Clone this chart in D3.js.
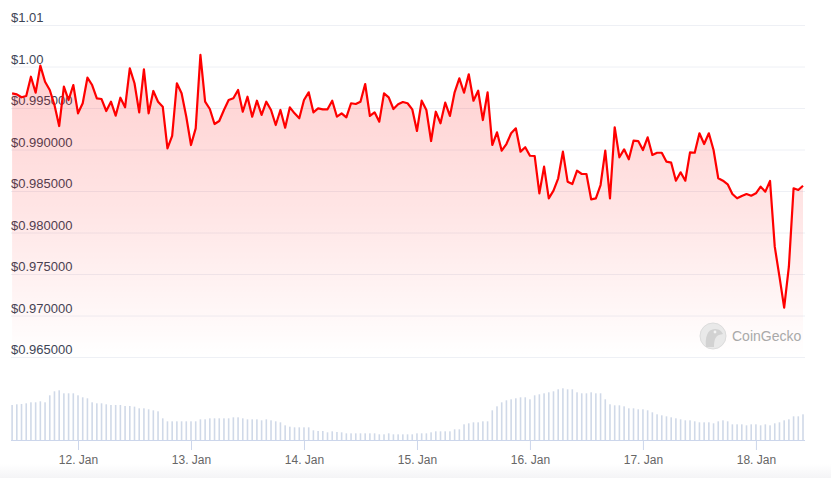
<!DOCTYPE html>
<html>
<head>
<meta charset="utf-8">
<script src="https://cdn.jsdelivr.net/npm/d3@7/dist/d3.min.js"></script>
<style>
  html, body { margin: 0; padding: 0; background: #fff; }
  svg { display: block; font-family: "Liberation Sans", Arial, Helvetica, sans-serif; }
</style>
</head>
<body>
<svg id="chart" width="831" height="478"></svg>
<script>
// ---- data ----
const startTime = Date.UTC(2024, 0, 11, 10, 0); // 11 Jan 10:00, hourly points
const prices = [
  0.99677, 0.99665, 0.99629, 0.99645, 0.99877, 0.99684, 1.00010, 0.99817, 0.99717, 0.99536,
  0.99283, 0.99757, 0.99596, 0.99777, 0.99436, 0.99557, 0.99865, 0.99777, 0.99617, 0.99608,
  0.99464, 0.99576, 0.99407, 0.99624, 0.99508, 0.99978, 0.99798, 0.99448, 0.99966, 0.99436,
  0.99705, 0.99576, 0.99516, 0.99014, 0.99163, 0.99798, 0.99677, 0.99395, 0.99054, 0.99255,
  1.00139, 0.99576, 0.99488, 0.99307, 0.99343, 0.99476, 0.99596, 0.99617, 0.99717, 0.99455,
  0.99636, 0.99395, 0.99588, 0.99416, 0.99576, 0.99476, 0.99295, 0.99476, 0.99263, 0.99508,
  0.99436, 0.99376, 0.99596, 0.99689, 0.99448, 0.99496, 0.99484, 0.99484, 0.99588, 0.99395,
  0.99436, 0.99388, 0.99557, 0.99548, 0.99576, 0.99789, 0.99404, 0.99448, 0.99335, 0.99677,
  0.99629, 0.99488, 0.99545, 0.99572, 0.99557, 0.99484, 0.99223, 0.99588, 0.99476, 0.99102,
  0.99455, 0.99316, 0.99564, 0.99404, 0.99689, 0.99858, 0.99684, 0.99906, 0.99588, 0.99708,
  0.99355, 0.99689, 0.99054, 0.99207, 0.98986, 0.99066, 0.99195, 0.99255, 0.98974, 0.99027,
  0.98925, 0.98922, 0.98472, 0.98793, 0.98412, 0.98504, 0.98653, 0.98974, 0.98612, 0.98584,
  0.98745, 0.98705, 0.98705, 0.98400, 0.98412, 0.98572, 0.98986, 0.98412, 0.99268, 0.98906,
  0.99002, 0.98882, 0.99106, 0.99102, 0.98994, 0.99147, 0.98934, 0.98961, 0.98961, 0.98853,
  0.98841, 0.98624, 0.98725, 0.98624, 0.98966, 0.98961, 0.99195, 0.99066, 0.99195, 0.98994,
  0.98653, 0.98624, 0.98581, 0.98464, 0.98412, 0.98440, 0.98464, 0.98443, 0.98472, 0.98552,
  0.98492, 0.98621, 0.97829, 0.97468, 0.97094, 0.97588, 0.98533, 0.98512, 0.98564
];
const volumes = [
  105, 107, 108, 110, 113, 113, 116, 113, 134, 146,
  149, 140, 140, 140, 134, 128, 125, 113, 110, 110,
  107, 105, 105, 105, 102, 102, 100, 95, 95, 92,
  89, 86, 65, 56, 56, 56, 56, 56, 56, 56,
  62, 62, 65, 65, 65, 65, 65, 68, 68, 65,
  62, 62, 62, 59, 62, 59, 56, 53, 44, 40,
  38, 38, 38, 38, 29, 27, 27, 23, 26, 24,
  23, 20, 20, 20, 20, 20, 20, 20, 17, 17,
  20, 17, 17, 17, 17, 17, 20, 20, 20, 23,
  26, 26, 26, 26, 32, 32, 47, 50, 53, 53,
  56, 56, 89, 101, 113, 119, 122, 125, 128, 128,
  122, 134, 137, 140, 143, 146, 152, 155, 152, 152,
  143, 140, 140, 143, 140, 140, 122, 107, 104, 104,
  101, 95, 95, 92, 92, 89, 83, 77, 74, 71,
  68, 65, 62, 59, 59, 56, 53, 53, 53, 50,
  56, 59, 56, 47, 47, 47, 44, 47, 47, 44,
  47, 44, 50, 53, 59, 62, 71, 71, 77
];
const yTicks = [0.965, 0.970, 0.975, 0.980, 0.985, 0.990, 0.995, 1.000, 1.005];
const yTickLabels = ["$0.965000", "$0.970000", "$0.975000", "$0.980000", "$0.985000",
                     "$0.990000", "$0.995000", "$1.00", "$1.01"];
const xTickDays = [12, 13, 14, 15, 16, 17, 18];

// ---- build ----
const HOUR = 3600 * 1000;
const points = prices.map((p, i) => ({ t: new Date(startTime + i * HOUR), p, v: volumes[i] }));

const svg = d3.select("#chart");
const W = 831, H = 478;
const plotLeft = 11, plotRight = 805;

const x = d3.scaleUtc()
  .domain([points[0].t, points[points.length - 1].t])
  .range([12.1, 803]);
const y = d3.scaleLinear().domain([0.965, 1.005]).range([357, 25]);
const yVol = d3.scaleLinear().domain([0, d3.max(volumes)]).range([440, 388.3]);

const defs = svg.append("defs");
const grad = defs.append("linearGradient")
  .attr("id", "areaGrad").attr("gradientUnits", "userSpaceOnUse")
  .attr("x1", 0).attr("x2", 0).attr("y1", y(0.9995)).attr("y2", y(0.965));
grad.append("stop").attr("offset", 0).attr("stop-color", "#ff0000").attr("stop-opacity", 0.18);
grad.append("stop").attr("offset", 0.5).attr("stop-color", "#ff0000").attr("stop-opacity", 0.1);
grad.append("stop").attr("offset", 1).attr("stop-color", "#ff0000").attr("stop-opacity", 0.0);

const bottomGrad = defs.append("linearGradient")
  .attr("id", "bottomGrad").attr("x1", 0).attr("x2", 0).attr("y1", 0).attr("y2", 1);
bottomGrad.append("stop").attr("offset", 0).attr("stop-color", "#ffffff");
bottomGrad.append("stop").attr("offset", 1).attr("stop-color", "#f4f4f6");
svg.append("rect").attr("x", 0).attr("y", 464).attr("width", W).attr("height", H - 464)
  .attr("fill", "url(#bottomGrad)");

// y axis: gridlines + labels
const yAxis = d3.axisRight(y)
  .tickValues(yTicks)
  .tickSize(plotRight - plotLeft)
  .tickFormat((d, i) => yTickLabels[i]);
const gy = svg.append("g").attr("transform", `translate(${plotLeft},0)`).call(yAxis);
gy.select(".domain").remove();
gy.selectAll(".tick line").attr("stroke", "#eef0f5").attr("stroke-width", 1);

// area + line
const area = d3.area().x(d => x(d.t)).y0(y(0.965)).y1(d => y(d.p));
svg.append("path").datum(points).attr("d", area).attr("fill", "url(#areaGrad)");

// watermark
const wm = svg.append("g").attr("transform", "translate(713,336)");
wm.append("circle").attr("r", 13).attr("fill", "#e9e9e9").attr("stroke", "#dcdcdc").attr("stroke-width", 1);
wm.append("path").attr("d", "M-7,11 C-8,2 -6,-7 2,-7 C7,-7 9,-4 10,-2 L6,-1 C3,0 1,3 1,11 Z")
  .attr("fill", "#d2d2d2");
wm.append("circle").attr("cx", 2).attr("cy", -4).attr("r", 1.4).attr("fill", "#f4f4f4");
svg.append("text").attr("x", 732).attr("y", 341).attr("fill", "#a9a9a9")
  .attr("font-size", 14).text("CoinGecko");

const line = d3.line().x(d => x(d.t)).y(d => y(d.p));
svg.append("path").datum(points).attr("d", line)
  .attr("fill", "none").attr("stroke", "#ff0000").attr("stroke-width", 2.2)
  .attr("stroke-linejoin", "round");

gy.selectAll(".tick text")
  .attr("x", 0).attr("dy", -3.5).attr("y", 0)
  .attr("text-anchor", "start").attr("dominant-baseline", "auto")
  .attr("fill", "#3d4556").attr("font-size", 13)
  .style("font-family", "'Liberation Sans', Arial, sans-serif");

// volume bars
svg.append("g").selectAll("rect").data(points).join("rect")
  .attr("x", d => x(d.t) - 0.8)
  .attr("width", 1.6)
  .attr("y", d => yVol(d.v))
  .attr("height", d => 440 - yVol(d.v))
  .attr("fill", "#d0d9e8");

// x axis
const xAxis = d3.axisBottom(x)
  .tickValues(xTickDays.map(dd => new Date(Date.UTC(2024, 0, dd))))
  .tickSize(10)
  .tickSizeOuter(0)
  .tickPadding(5)
  .tickFormat(d3.utcFormat("%-d. %b"));
const gx = svg.append("g").attr("transform", "translate(0,440)").call(xAxis);
gx.select(".domain").remove();
gx.append("line").attr("x1", plotLeft).attr("x2", plotRight).attr("y1", 0.5).attr("y2", 0.5)
  .attr("stroke", "#ccd6eb");
gx.selectAll(".tick line").attr("stroke", "#ccd6eb");
gx.selectAll(".tick text").attr("fill", "#666666").attr("font-size", 12)
  .style("font-family", "'Liberation Sans', Arial, sans-serif");
</script>
</body>
</html>
